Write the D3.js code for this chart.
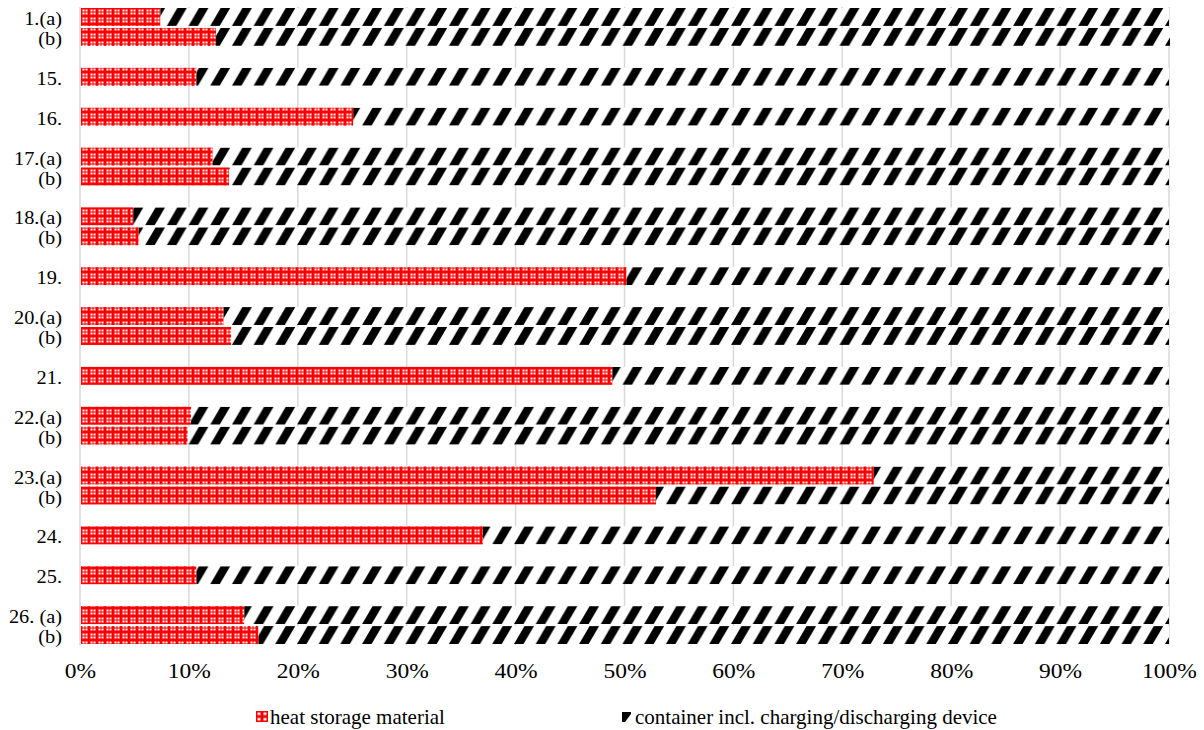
<!DOCTYPE html>
<meta charset="utf-8">
<style>
body { margin: 0; background: #fff; }
text { font-family: "Liberation Serif", "Times New Roman", serif; font-size: 21px; fill: #000; }
.grid line { stroke: #d9d9d9; stroke-width: 1.5px; }
</style>
<body>
<svg id="svg" width="1204" height="730"></svg>
<script src="https://cdnjs.cloudflare.com/ajax/libs/d3/7.8.5/d3.min.js"></script>
<script>

// row labels, null = empty spacer slot
var rowLabels = ["1.(a)", "(b)", null, "15.", null, "16.", null, "17.(a)", "(b)", null,
  "18.(a)", "(b)", null, "19.", null, "20.(a)", "(b)", null, "21.", null,
  "22.(a)", "(b)", null, "23.(a)", "(b)", null, "24.", null, "25.", null, "26. (a)", "(b)"];

var heatStorage = [7.3, 12.4, 10.6, 25.0, 12.1, 13.6, 4.8, 5.3, 50.1, 13.1,
  13.8, 48.8, 10.1, 9.8, 72.8, 52.8, 36.9, 10.6, 15.0, 16.3];
var container = [92.7, 87.6, 89.4, 75.0, 87.9, 86.4, 95.2, 94.7, 49.9, 86.9,
  86.2, 51.2, 89.9, 90.2, 27.2, 47.2, 63.1, 89.4, 85.0, 83.7];

var seriesNames = ["heat storage material", "container incl. charging/discharging device"];
var xTicks = [0, 0.1, 0.2, 0.3, 0.4, 0.5, 0.6, 0.7, 0.8, 0.9, 1];

var svg = d3.select("#svg"),
    margin = {top: 7, right: 35, bottom: 85, left: 80},
    width = 1169 - margin.left,
    height = 645 - margin.top,
    g = svg.append("g").attr("transform", "translate(" + margin.left + "," + margin.top + ")");

// build rows (only labelled slots carry data)
var rows = [], k = 0;
rowLabels.forEach(function(l, i) {
  if (l === null) return;
  var tot = heatStorage[k] + container[k];
  rows.push({slot: i, label: l, heat: heatStorage[k] / tot, cont: container[k] / tot});
  k++;
});

var x = d3.scaleLinear().domain([0, 1]).range([0, width]);
var y = d3.scaleBand().domain(d3.range(rowLabels.length)).range([0, height]).paddingInner(0.1).paddingOuter(0.05);

var stack = d3.stack().keys(["heat", "cont"]);
var layers = stack(rows);

// patterns (user space = the plot group, so origin at y(0))
var defs = svg.append("defs");
var step = y.step();
var red = defs.append("pattern")
    .attr("id", "redGrid")
    .attr("patternUnits", "userSpaceOnUse")
    .attr("width", 8).attr("height", 8)
    .attr("x", 1).attr("y", y(0));
red.append("rect").attr("width", 8).attr("height", 8).attr("fill", "#ff0000");
[[1.5, 1.5], [4.5, 1.5], [1.5, 4.5], [4.5, 4.5]].forEach(function(p) {
  red.append("rect").attr("x", p[0]).attr("y", p[1]).attr("width", 2).attr("height", 2).attr("fill", "#fff");
});

var stripe = defs.append("pattern")
    .attr("id", "stripes")
    .attr("patternUnits", "userSpaceOnUse")
    .attr("width", 21.7).attr("height", step)
    .attr("x", 0).attr("y", y(0));
stripe.append("rect").attr("width", 21.7).attr("height", step).attr("fill", "#fff");
stripe.append("polygon")
    .attr("points", "0,18 9.5,18 20,0 10.5,0")
    .attr("fill", "#000");

// gridlines
g.append("g").attr("class", "grid")
  .selectAll("line")
  .data(xTicks)
  .enter().append("line")
    .attr("x1", function(d) { return x(d); })
    .attr("x2", function(d) { return x(d); })
    .attr("y1", 0)
    .attr("y2", height);

// bars
var fills = ["url(#redGrid)", "url(#stripes)"];
g.selectAll(".layer")
  .data(layers)
  .enter().append("g")
    .attr("class", "layer")
    .attr("fill", function(d, i) { return fills[i]; })
  .selectAll("rect")
  .data(function(d) { return d; })
  .enter().append("rect")
    .attr("x", function(d) { return x(d[0]) + 1; })
    .attr("y", function(d) { return y(d.data.slot); })
    .attr("width", function(d) { return Math.max(0, x(d[1]) - x(d[0]) - (d[1] >= 1 ? 1 : 0)); })
    .attr("height", y.bandwidth());

// y labels (slightly wide serif, as in the source image)
g.selectAll(".ylab")
  .data(rows)
  .enter().append("text")
    .attr("class", "ylab")
    .attr("transform", function(d) {
      return "translate(-18," + (y(d.slot) + y.bandwidth() / 2) + ") scale(1.13,1)";
    })
    .attr("dy", "0.45em")
    .attr("text-anchor", "end")
    .style("font-size", "18px")
    .text(function(d) { return d.label; });

// x axis labels
var xAxis = g.append("g")
    .attr("transform", "translate(0," + height + ")")
    .call(d3.axisBottom(x).tickValues(xTicks).tickFormat(d3.format(".0%")).tickSize(0).tickPadding(18));
xAxis.select(".domain").remove();
xAxis.selectAll("text")
    .attr("fill", "#000")
    .attr("transform", "scale(1.12,1)")
    .style("font-family", "'Liberation Serif', 'Times New Roman', serif")
    .style("font-size", "21px");

// legend
var legRed = defs.append("pattern").attr("id", "legRed").attr("patternUnits", "userSpaceOnUse")
    .attr("width", 6).attr("height", 5.5).attr("x", 256).attr("y", -6);
legRed.append("rect").attr("width", 6).attr("height", 5.5).attr("fill", "#ff0000");
legRed.append("rect").attr("x", 1.5).attr("y", 1.5).attr("width", 3).attr("height", 2.5).attr("fill", "#fff");

var legend = svg.append("g").attr("transform", "translate(0,717)");
legend.append("rect").attr("x", 256).attr("y", -6).attr("width", 12).attr("height", 11).attr("fill", "url(#legRed)");
legend.append("text").attr("x", 270).attr("y", 7).text(seriesNames[0]);

legend.append("polygon")
    .attr("points", "622,-5 631,-5 631,-3 625,5 622,5")
    .attr("fill", "#000");
legend.append("text").attr("x", 635).attr("y", 7).text(seriesNames[1]);

</script>
</body>
